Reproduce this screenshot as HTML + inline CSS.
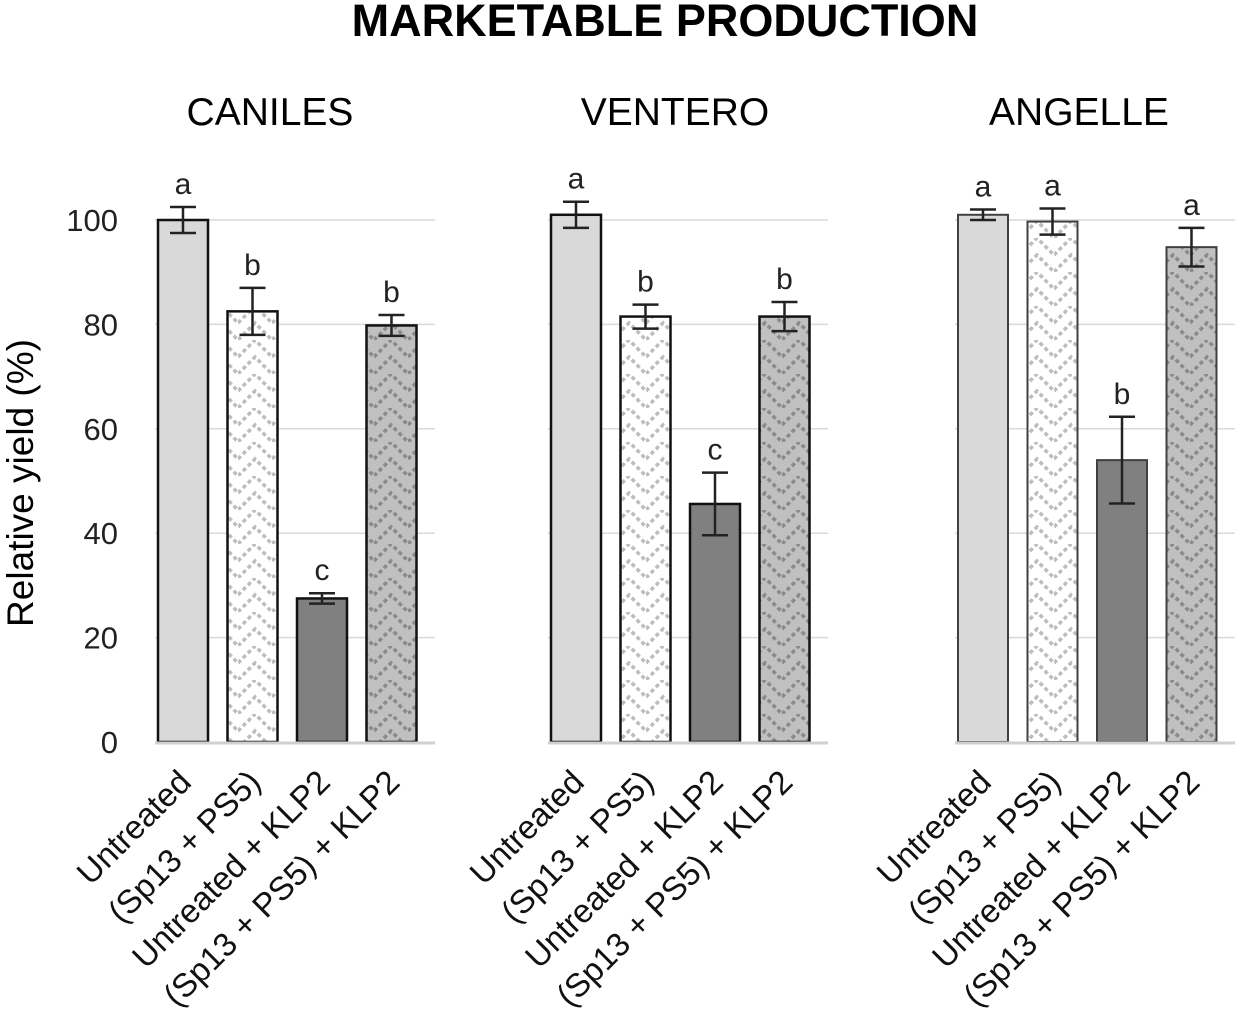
<!DOCTYPE html>
<html><head><meta charset="utf-8"><style>
body{margin:0;background:#fff}
svg{display:block;font-family:"Liberation Sans",Arial,sans-serif}
</style></head><body>
<svg id="c" width="1242" height="1015">
<defs>
<pattern id="zigL" width="34" height="34" patternUnits="userSpaceOnUse">
<rect width="34" height="34" fill="#fff"/>
<path d="M0 34 L17 17 L34 34 M0 17 L17 0 L34 17" stroke="#bdbdbd" stroke-width="3.5" fill="none" stroke-dasharray="4 3"/>
</pattern>
<pattern id="zigD" width="34" height="34" patternUnits="userSpaceOnUse">
<rect width="34" height="34" fill="#c0c0c0"/>
<path d="M0 34 L17 17 L34 34 M0 17 L17 0 L34 17" stroke="#8a8a8a" stroke-width="3.5" fill="none" stroke-dasharray="4 3"/>
</pattern>
</defs>
<text x="665" y="36" font-size="45" font-weight="bold" text-anchor="middle">MARKETABLE PRODUCTION</text>
<text transform="translate(33,483) rotate(-90)" font-size="37" text-anchor="middle">Relative yield (%)</text>
<g id="plot"></g>
</svg>
<script>
const panels = ["CANILES","VENTERO","ANGELLE"];
const categories = ["Untreated","(Sp13 + PS5)","Untreated + KLP2","(Sp13 + PS5) + KLP2"];
const canilesValues = [100, 82.5, 27.5, 79.8];
const canilesErrors = [2.5, 4.5, 1.0, 2.0];
const canilesLetters = ["a","b","c","b"];
const venteroValues = [101, 81.5, 45.6, 81.5];
const venteroErrors = [2.5, 2.3, 6.0, 2.8];
const venteroLetters = ["a","b","c","b"];
const angelleValues = [101, 99.7, 54, 94.8];
const angelleErrors = [1.0, 2.5, 8.3, 3.7];
const angelleLetters = ["a","a","b","a"];
const yTicks = [0,20,40,60,80,100];

const values=[canilesValues,venteroValues,angelleValues];
const errors=[canilesErrors,venteroErrors,angelleErrors];
const letters=[canilesLetters,venteroLetters,angelleLetters];
const panelX=[155,548,955];
const titleX=[270,675,1079];
const y0=742, pxPerUnit=5.22;
const yScale=v=>y0-v*pxPerUnit;
const xScale=(p,i)=>panelX[p]+3+i*69.5;
const barW=50;
const fills=["#d9d9d9","url(#zigL)","#808080","url(#zigD)"];
const NS="http://www.w3.org/2000/svg";
const g=document.getElementById('plot');
function mk(tag,attrs,parent){const e=document.createElementNS(NS,tag);for(const k in attrs)e.setAttribute(k,attrs[k]);(parent||g).appendChild(e);return e;}

yTicks.forEach(t=>{
  const tx=mk('text',{x:118,y:yScale(t)+11,'font-size':31,'text-anchor':'end',fill:'#222'});
  tx.textContent=t;
  
  
});

panels.forEach((name,p)=>{
  const pg=mk('g',{});
  
  
  const x0=panelX[p], x1=x0+280;
  yTicks.forEach(t=>{ if(t>0){const l=mk('line',{x1:x0,x2:x1,y1:yScale(t),y2:yScale(t),stroke:'#d9d9d9','stroke-width':1.5},pg);
    
    }});
  const tt=mk('text',{x:titleX[p],y:125,'font-size':39,'text-anchor':'middle'},pg);
  tt.textContent=name;
  
  
  const stroke=p===2?'#404040':'#111';
  values[p].forEach((v,i)=>{
    const bx=xScale(p,i);
    const r=mk('rect',{x:bx,y:yScale(v),width:barW,height:y0-yScale(v),fill:fills[i],stroke:stroke,'stroke-width':p===2?2:2.5},pg);
    
    
    const cx=bx+barW/2, e=errors[p][i];
    const eb=mk('path',{d:`M${cx} ${yScale(v+e)}V${yScale(v-e)}M${cx-13} ${yScale(v+e)}H${cx+13}M${cx-13} ${yScale(v-e)}H${cx+13}`,stroke:'#222','stroke-width':2.5,fill:'none'},pg);
    
    
    const lt=mk('text',{x:cx,y:yScale(v+e)-13,'font-size':30,'text-anchor':'middle',fill:'#222'},pg);
    lt.textContent=letters[p][i];
    
    
    const xl=mk('text',{transform:`translate(${cx+10},${784}) rotate(-45)`,'font-size':33,'text-anchor':'end',fill:'#111'},pg);
    xl.textContent=categories[i];
    
    
  });
  const ax=mk('line',{x1:x0,x2:x1,y1:y0+1,y2:y0+1,stroke:'#d0d0d0','stroke-width':3},pg);
  
  
});
</script>
</body></html>
